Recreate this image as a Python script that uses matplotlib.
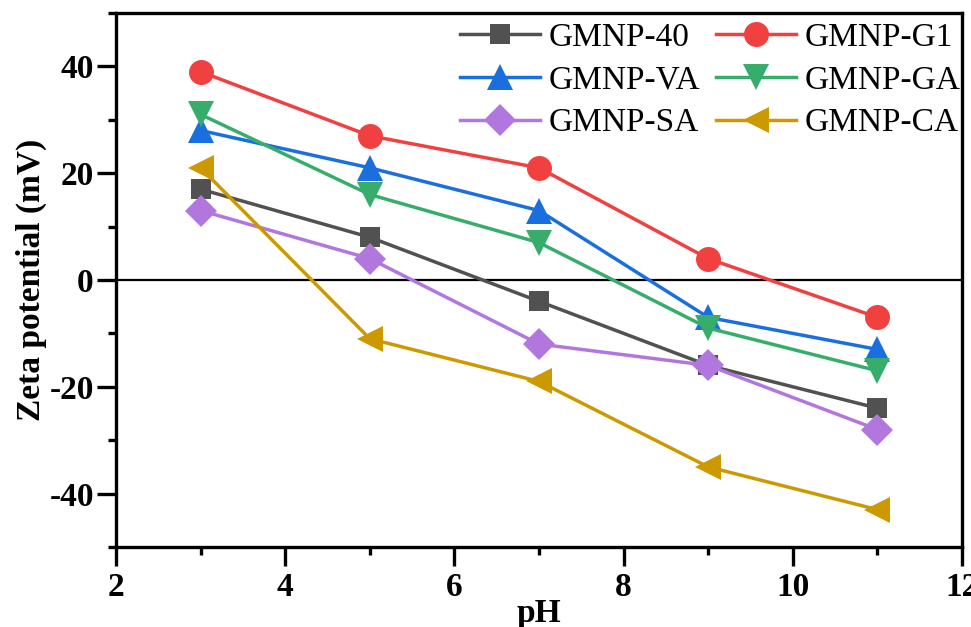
import numpy as np
import matplotlib.pyplot as plt
from matplotlib.ticker import MultipleLocator

# Data
ph = [3, 5, 7, 9, 11]
gmnp_40 = [17, 8, -4, -16, -24]
gmnp_g1 = [39, 27, 21, 4, -7]
gmnp_va = [28, 21, 13, -7, -13]
gmnp_ga = [31, 16, 7, -9, -17]
gmnp_sa = [13, 4, -12, -16, -28]
gmnp_ca = [21, -11, -19, -35, -43]

series = [
    ('GMNP-40', gmnp_40, '#515151', 's', 15),
    ('GMNP-G1', gmnp_g1, '#F14040', 'o', 18),
    ('GMNP-VA', gmnp_va, '#1A6FDF', '^', 19),
    ('GMNP-GA', gmnp_ga, '#37AD6B', 'v', 19),
    ('GMNP-SA', gmnp_sa, '#B177DE', 'D', 16),
    ('GMNP-CA', gmnp_ca, '#CC9900', '<', 19),
]

plt.rcParams['font.family'] = ['Liberation Serif', 'DejaVu Serif']
plt.rcParams['axes.unicode_minus'] = False

fig = plt.figure(figsize=(9.71, 6.27), dpi=100)
ax = fig.add_axes([0.1195, 0.1276, 0.8712, 0.8517])

ax.axhline(0, color='k', linewidth=1.6, zorder=1)

lines = {}
for name, vals, col, mk, ms in series:
    ln, = ax.plot(ph, vals, color=col, marker=mk, markersize=ms,
                  markeredgewidth=0, linewidth=2.5, label=name, zorder=3)
    lines[name] = ln

ax.set_xlim(2, 12)
ax.set_ylim(-50, 50)
ax.xaxis.set_major_locator(MultipleLocator(2))
ax.xaxis.set_minor_locator(MultipleLocator(1))
ax.yaxis.set_major_locator(MultipleLocator(20))
ax.yaxis.set_minor_locator(MultipleLocator(10))

for s in ax.spines.values():
    s.set_linewidth(2.4)
ax.tick_params(which='major', direction='out', length=14, width=2.4,
               labelsize=24, pad=2)
ax.tick_params(which='minor', direction='out', length=6, width=2.4)
ax.tick_params(axis='x', which='major', pad=4)
for lab in ax.get_xticklabels() + ax.get_yticklabels():
    lab.set_fontweight('bold')

ax.set_xlabel('pH', fontsize=24, fontweight='bold', va='center')
ax.xaxis.set_label_coords(0.5, -0.125)
ax.set_ylabel('Zeta potential (mV)', fontsize=24, fontweight='bold', va='center')
ax.yaxis.set_label_coords(-0.100, 0.5)

# legend fills column-wise, so reorder to get row-wise pairs
order = ['GMNP-40', 'GMNP-VA', 'GMNP-SA', 'GMNP-G1', 'GMNP-GA', 'GMNP-CA']
ax.legend([lines[n] for n in order], order, ncol=2, frameon=False,
          fontsize=24, loc='upper right', bbox_to_anchor=(1.004, 0.992),
          borderaxespad=0.0, borderpad=0.15, handlelength=2.4,
          columnspacing=0.5, labelspacing=0.37, handletextpad=0.24)

fig.savefig('out.png', dpi=100)
